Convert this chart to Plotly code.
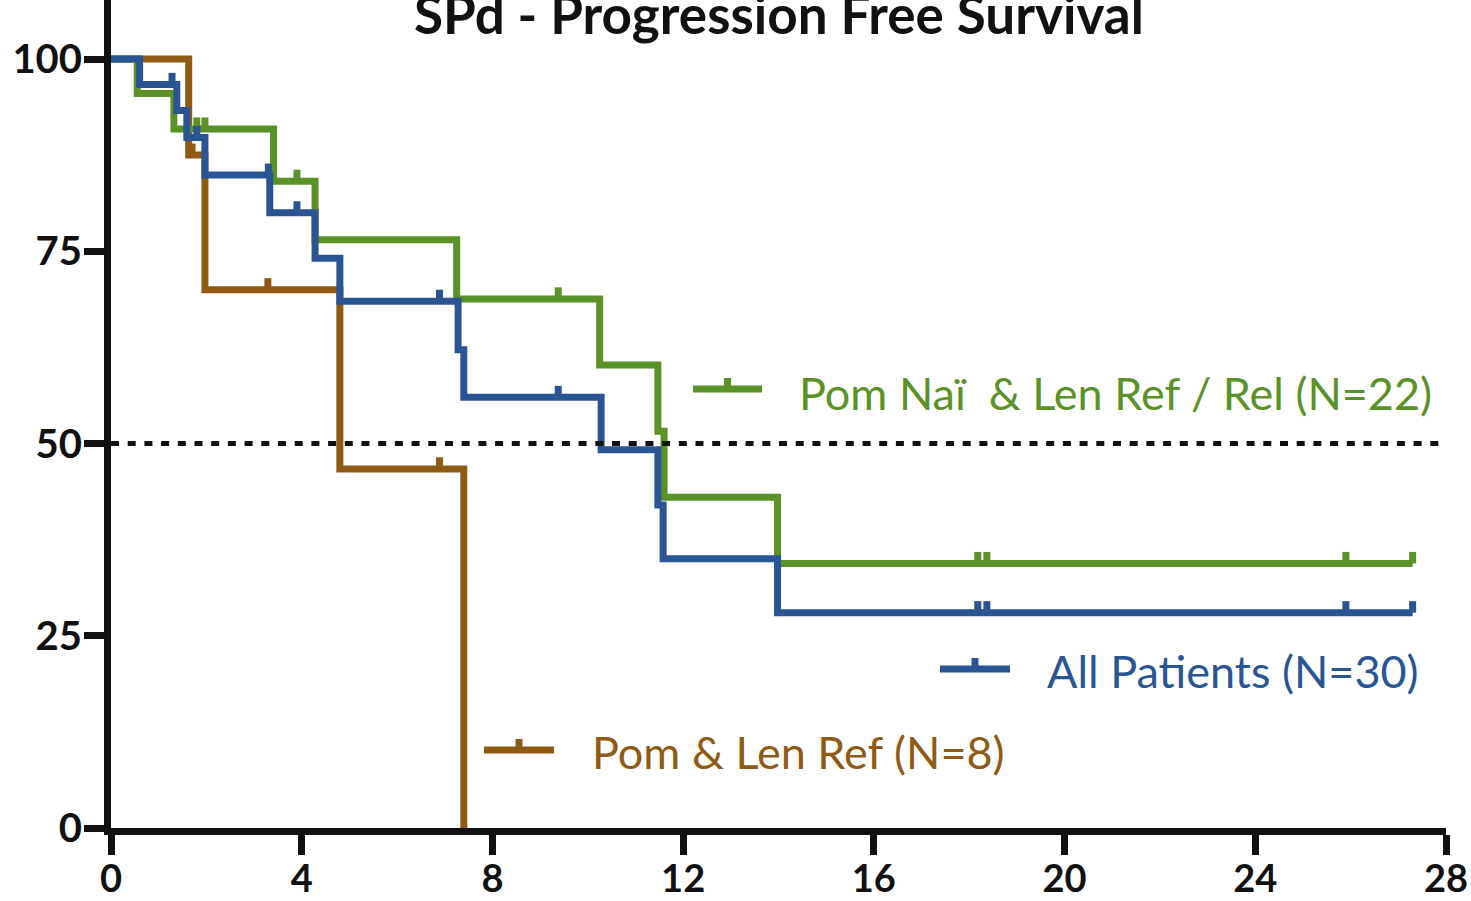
import plotly.graph_objects as go

# ---------------- data ----------------
green_name = "Pom Naï  & Len Ref / Rel (N=22)"
green_t = [0, 0.55, 1.32, 3.41, 4.28, 7.25, 10.25, 11.47, 11.60, 13.98, 27.3]
green_s = [100, 95.5, 90.9, 84.1, 76.5, 68.8, 60.2, 51.6, 43.0, 34.4, 34.4]
green_cens = [1.80, 1.97, 3.90, 9.38, 18.18, 18.37, 25.90, 27.3]

blue_name = "All Patients (N=30)"
blue_t = [0, 0.60, 1.38, 1.59, 1.97, 3.33, 4.28, 4.80, 7.28, 7.40, 10.28, 11.47, 11.58, 13.98, 27.3]
blue_s = [100, 96.7, 93.3, 89.8, 84.9, 80.0, 74.1, 68.5, 62.2, 56.0, 49.2, 42.0, 35.0, 28.0, 28.0]
blue_cens = [1.28, 1.80, 3.30, 3.90, 6.89, 9.38, 18.18, 18.37, 25.90, 27.3]

brown_name = "Pom & Len Ref (N=8)"
brown_t = [0, 1.63, 1.97, 4.80, 7.40]
brown_s = [100, 87.5, 70.0, 46.7, 0]
brown_cens = [1.70, 3.29, 6.89]

x_ticks = [0, 4, 8, 12, 16, 20, 24, 28]
y_ticks = [0, 25, 50, 75, 100]
median_level = [50, 50]
median_t = [0, 28]
title_text = "SPd - Progression Free Survival"

# ---------------- styling ----------------
GREEN = "#5a9227"
BLUE = "#2a5594"
BROWN = "#8f5a14"
AX = "#111111"
W, H = 1471, 901
L, R, T, B = 111, 25, 0, 73
LW = 7
CENS_H = 1.5  # censor tick height in survival units
FONT = "Lato, 'Open Sans', sans-serif"

def step_value(ts, ss, t):
    v = ss[0]
    for ti, si in zip(ts, ss):
        if ti <= t:
            v = si
    return v

def cens_xy(ts, ss, cens):
    xs, ys = [], []
    for c in cens:
        v = step_value(ts, ss, c)
        xs += [c, c, None]
        ys += [v, v + CENS_H, None]
    return xs, ys

fig = go.Figure()
for ts, ss, cens, col, name in [
    (brown_t, brown_s, brown_cens, BROWN, brown_name),
    (green_t, green_s, green_cens, GREEN, green_name),
    (blue_t, blue_s, blue_cens, BLUE, blue_name),
]:
    fig.add_trace(go.Scatter(x=ts, y=ss, mode="lines", line=dict(color=col, width=LW, shape="hv"),
                             name=name, showlegend=False, cliponaxis=False))
    cx, cy = cens_xy(ts, ss, cens)
    fig.add_trace(go.Scatter(x=cx, y=cy, mode="lines", line=dict(color=col, width=LW),
                             showlegend=False, cliponaxis=False, hoverinfo="skip"))

fig.add_trace(go.Scatter(x=median_t, y=median_level, mode="lines",
                         line=dict(color=AX, width=5, dash="8px,8.7px"),
                         showlegend=False, cliponaxis=False, hoverinfo="skip"))

pw = W - L - R
ph = H - T - B

def px2x(px):
    return (px - L) / pw

def py2y(py):
    return (H - B - py) / ph

shapes = []
annotations = []
legend_items = [
    (green_name, GREEN, 693, 762, 389, 797, 393),
    (blue_name, BLUE, 940, 1010, 669, 1045, 671),
    (brown_name, BROWN, 484, 554, 750, 590, 752),
]
for name, col, x0, x1, yl, xt, yt in legend_items:
    shapes.append(dict(type="line", xref="paper", yref="paper",
                       x0=px2x(x0), x1=px2x(x1), y0=py2y(yl), y1=py2y(yl),
                       line=dict(color=col, width=LW)))
    xm = (x0 + x1) / 2
    shapes.append(dict(type="line", xref="paper", yref="paper",
                       x0=px2x(xm), x1=px2x(xm), y0=py2y(yl), y1=py2y(yl - 11),
                       line=dict(color=col, width=LW)))
    annotations.append(dict(text=name, xref="paper", yref="paper", x=px2x(xt), y=py2y(yt),
                            xanchor="left", yanchor="middle", showarrow=False,
                            font=dict(family=FONT, size=45, color=col)))

annotations.append(dict(text="<b>" + title_text + "</b>", xref="paper", yref="paper",
                        x=0.5, y=py2y(47), xanchor="center", yanchor="bottom", showarrow=False,
                        font=dict(family=FONT, size=53, color=AX)))

axis_common = dict(showgrid=False, zeroline=False, showline=True, linecolor=AX, linewidth=7,
                   ticks="outside", ticklen=20, tickwidth=7, tickcolor=AX,
                   fixedrange=True, automargin=False)

fig.update_layout(
    width=W, height=H,
    margin=dict(l=L, r=R, t=T, b=B, pad=0, autoexpand=False),
    paper_bgcolor="white", plot_bgcolor="white",
    xaxis=dict(range=[0, 28], tickmode="array", tickvals=x_ticks,
               ticktext=["<b>%d</b>" % v for v in x_ticks], ticklabelstandoff=-9,
               tickfont=dict(family=FONT, size=38, color=AX), **axis_common),
    yaxis=dict(range=[0, ph / 7.69], tickmode="array", tickvals=y_ticks,
               ticktext=["<b>%d</b>" % v for v in y_ticks], ticklabelstandoff=-6,
               tickfont=dict(family=FONT, size=40, color=AX), **axis_common),
    shapes=shapes,
    annotations=annotations,
    showlegend=False,
)

fig.write_html("out.html", config={"displayModeBar": False},
               post_script="document.body.style.margin='0';document.body.style.overflow='hidden';")
